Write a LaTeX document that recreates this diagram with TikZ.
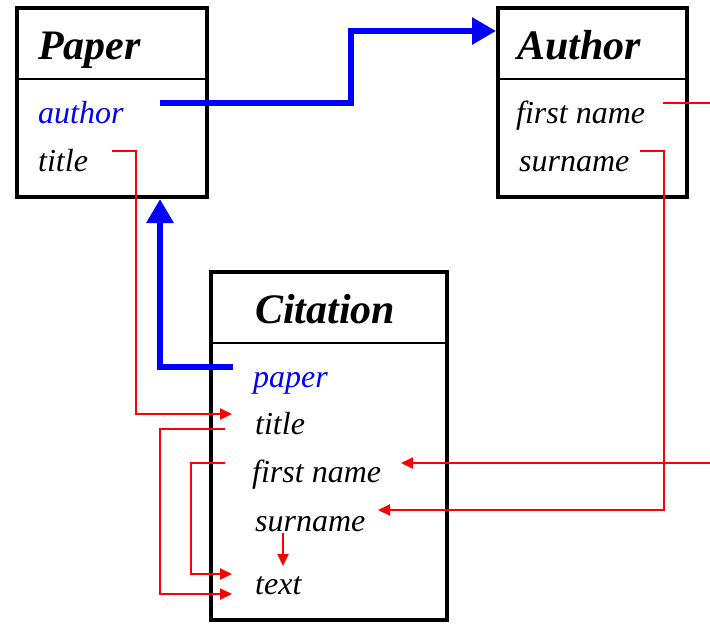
\documentclass[tikz,border=0pt]{standalone}
\usepackage{fontspec}
\setmainfont{Liberation Serif}
\usetikzlibrary{arrows.meta}

\begin{document}
\begin{tikzpicture}[
  x=1pt, y=-1pt,
  classbox/.style={draw, line width=4pt, anchor=north west, inner sep=0pt, outer sep=0pt},
  divider/.style={line width=2pt},
  classname/.style={anchor=base west, inner sep=0pt, font=\fontsize{42}{42}\selectfont\bfseries\itshape},
  field/.style={anchor=base west, inner sep=0pt, font=\fontsize{32}{32}\selectfont\itshape},
  ref/.style={draw=blue, line width=6pt, -{Triangle[length=24pt, width=26pt]}},
  copy/.style={draw=red, line width=2pt, -{Triangle[length=12pt, width=11pt]}}
  ]
\useasboundingbox (0,0) rectangle (710,625);

% classes
\node[classbox, minimum width=190pt, minimum height=189pt] (paper) at (17,8) {};
\node[classbox, minimum width=189pt, minimum height=189pt] (author) at (498,8) {};
\node[classbox, minimum width=236pt, minimum height=348pt] (citation) at (211,272) {};
\draw[divider] (paper.west |- 0,79) -- (paper.east |- 0,79);
\draw[divider] (author.west |- 0,79) -- (author.east |- 0,79);
\draw[divider] (citation.west |- 0,343) -- (citation.east |- 0,343);

\node[classname] (paper-name) at (38,59) {Paper};
\node[field, text=blue] (paper-author) at (38,123) {author};
\node[field] (paper-title) at (38,171) {title};

\node[classname] (author-name) at (517,59) {Author};
\node[field] (author-first) at (516,123) {first name};
\node[field] (author-surname) at (519,171) {surname};

\node[classname] (citation-name) at (255,323) {Citation};
\node[field, text=blue] (cite-paper) at (253,387) {paper};
\node[field] (cite-title) at (255,434) {title};
\node[field] (cite-first) at (252,482) {first name};
\node[field] (cite-surname) at (255,531) {surname};
\node[field] (cite-text) at (255,594) {text};

% connector ends
\coordinate (pa-out) at (160,103);
\coordinate (author-in) at (496,31);
\coordinate (cp-out) at (233,367);
\coordinate (paper-in) at (160,199);
\coordinate (pt-out) at (112,151);
\coordinate (ct-in) at (232,414);
\coordinate (af-out) at (663,103);
\coordinate (cf-in) at (401,463);
\coordinate (as-out) at (640,151);
\coordinate (cs-in) at (378,510);
\coordinate (ct-out) at (225,429);
\coordinate (tx-in1) at (232,594);
\coordinate (cf-out) at (225,463);
\coordinate (tx-in2) at (232,574);
\coordinate (cs-down) at (283,533);
\coordinate (tx-top) at (283,566);

% references
\draw[ref] (pa-out) -- ++(191,0) |- (author-in);
\draw[ref] (cp-out) -| (paper-in);

% copied values
\draw[copy] (pt-out) -- ++(24,0) |- (ct-in);
\draw[copy] (af-out) -- ++(53,0) |- (cf-in);
\draw[copy] (as-out) -- ++(24,0) |- (cs-in);
\draw[copy] (ct-out) -- ++(-65,0) |- (tx-in1);
\draw[copy] (cf-out) -- ++(-34,0) |- (tx-in2);
\draw[copy] (cs-down) -- (tx-top);

\end{tikzpicture}
\end{document}
